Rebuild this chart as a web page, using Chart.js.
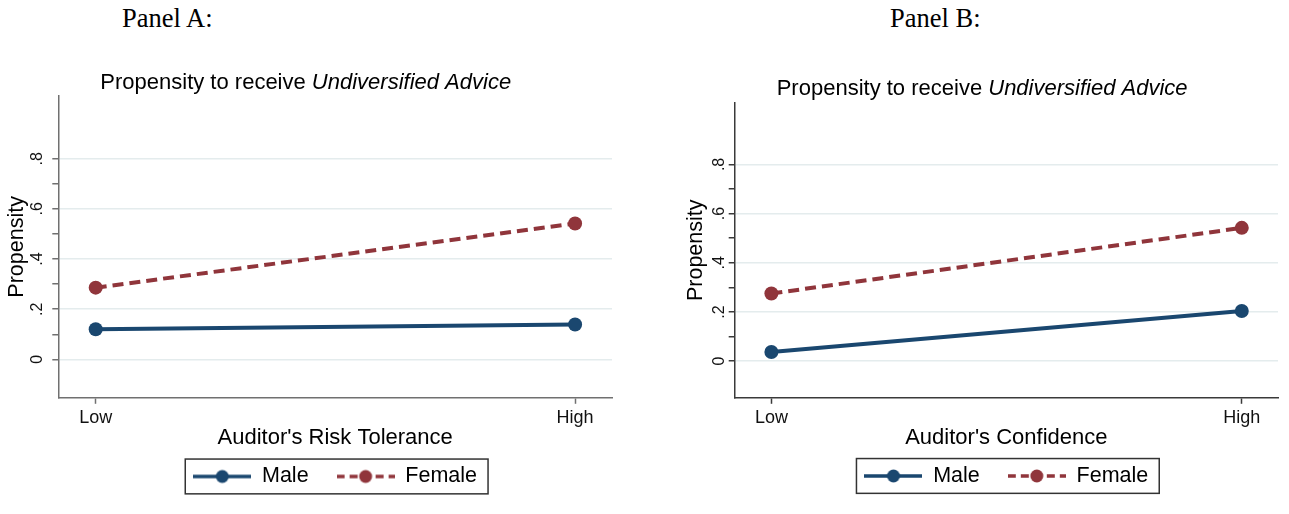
<!DOCTYPE html>
<html>
<head>
<meta charset="utf-8">
<script src="https://cdn.jsdelivr.net/npm/chart.js@4.4.1/dist/chart.umd.min.js"></script>
<style>
body { margin: 0; background: #fff; width: 1289px; height: 514px; position: relative; overflow: hidden; }
.panel-label { position: absolute; top: 5px; font-family: "Liberation Serif", "Times New Roman", serif; font-size: 26.5px; line-height: 1; color: #000; }
canvas { position: absolute; top: 0; }
</style>
</head>
<body>
<div class="panel-label" style="left:122px">Panel A:</div>
<div class="panel-label" style="left:890px">Panel B:</div>
<canvas id="chartA" width="660" height="514" style="left:0"></canvas>
<canvas id="chartB" width="629" height="514" style="left:660px"></canvas>
<script>
// datos
const categories = ['Low', 'High'];
const seriesNames = ['Male', 'Female'];
const maleA = [0.12, 0.139];
const femaleA = [0.286, 0.542];
const maleB = [0.037, 0.204];
const femaleB = [0.275, 0.542];
const yTicks = [0, 0.1, 0.2, 0.3, 0.4, 0.5, 0.6, 0.7, 0.8];
const yLabels = ['0', '', '.2', '', '.4', '', '.6', '', '.8'];
const titleMain = 'Propensity to receive ';
const titleItalic = 'Undiversified Advice';
const yTitle = 'Propensity';

const FONT = '"Liberation Sans", Arial, sans-serif';
const NAVY = '#1a476f';
const MAROON = '#90353b';
const GRID = '#e4eced';

Chart.defaults.font.family = FONT;
Chart.defaults.animation = false;

// simbolo de leyenda: linea + punto
function legendSymbol(color, dashed) {
    const c = document.createElement('canvas');
    c.width = 58;
    c.height = 16;
    const g = c.getContext('2d');
    g.strokeStyle = color;
    g.lineWidth = 3.5;
    if (dashed) g.setLineDash([8, 5]);
    g.beginPath();
    g.moveTo(0, 8);
    g.lineTo(58, 8);
    g.stroke();
    g.fillStyle = color;
    g.beginPath();
    g.arc(29, 8, 6.5, 0, Math.PI * 2);
    g.fill();
    return c;
}
const symbols = [legendSymbol(NAVY, false), legendSymbol(MAROON, true)];

function makePanel(id, cfg) {
    const ctx = document.getElementById(id).getContext('2d');
    new Chart(ctx, {
        type: 'line',
        data: {
            datasets: [
                {
                    label: seriesNames[0],
                    data: cfg.male.map((v, i) => ({ x: i, y: v })),
                    borderColor: NAVY,
                    backgroundColor: NAVY,
                    borderWidth: 4,
                    pointRadius: 7,
                    pointBorderWidth: 0,
                    pointHoverRadius: 7,
                    tension: 0,
                    fill: false
                },
                {
                    label: seriesNames[1],
                    data: cfg.female.map((v, i) => ({ x: i, y: v })),
                    borderColor: MAROON,
                    backgroundColor: MAROON,
                    borderWidth: 4,
                    borderDash: [11, 6],
                    pointRadius: 7,
                    pointBorderWidth: 0,
                    pointHoverRadius: 7,
                    tension: 0,
                    fill: false
                }
            ]
        },
        options: {
            responsive: false,
            layout: { padding: { left: 0, right: cfg.padRight, top: cfg.padTop, bottom: cfg.padBottom } },
            plugins: {
                tooltip: { enabled: false },
                title: { display: false },
                legend: {
                    position: 'bottom',
                    fullSize: false,
                    labels: {
                        usePointStyle: true,
                        pointStyleWidth: 58,
                        padding: 28,
                        color: '#000',
                        font: { size: 21.5 },
                        generateLabels: chart => chart.data.datasets.map((ds, i) => ({
                            text: ds.label,
                            pointStyle: symbols[i],
                            fillStyle: ds.borderColor,
                            strokeStyle: ds.borderColor,
                            lineWidth: 0,
                            hidden: false,
                            datasetIndex: i
                        }))
                    }
                }
            },
            scales: {
                x: {
                    type: 'linear',
                    min: -0.078,
                    max: 1.077,
                    afterBuildTicks: s => { s.ticks = categories.map((c, i) => ({ value: i })); },
                    afterFit: s => { s.height = cfg.xHeight; },
                    ticks: {
                        callback: v => categories[v],
                        font: { size: 18 },
                        color: '#111',
                        padding: 3.2,
                        maxRotation: 0,
                        autoSkip: false
                    },
                    grid: { drawOnChartArea: false, drawTicks: true, tickLength: 6, tickColor: cfg.axis, tickWidth: 1.5 },
                    border: { color: cfg.axis, width: 1.5 },
                    title: {
                        display: true,
                        text: cfg.xTitle,
                        color: '#000',
                        font: { size: 22 },
                        padding: { top: 0, bottom: cfg.xTitlePad }
                    }
                },
                y: {
                    min: cfg.yMin,
                    max: cfg.yMax,
                    afterBuildTicks: s => { s.ticks = yTicks.map(v => ({ value: v })); },
                    afterFit: s => { s.width = cfg.yWidth; },
                    ticks: { display: false },
                    grid: {
                        color: c => (yLabels[c.index] ? GRID : 'rgba(0,0,0,0)'),
                        lineWidth: 1.5,
                        tickLength: 6,
                        tickColor: cfg.axis,
                        tickWidth: 1.5
                    },
                    border: { color: cfg.axis, width: 1.5 },
                    title: {
                        display: true,
                        text: yTitle,
                        color: '#000',
                        font: { size: 21.5 },
                        padding: { top: cfg.yTitlePad, bottom: 0 }
                    }
                }
            }
        },
        plugins: [{
            id: 'stataDecor',
            afterDraw(chart) {
                const c = chart.ctx;
                const a = chart.chartArea;
                const ys = chart.scales.y;
                c.save();
                // titulo con parte en cursiva
                c.fillStyle = '#000';
                c.textAlign = 'left';
                c.textBaseline = 'alphabetic';
                c.font = '22px ' + FONT;
                const tx = a.left + 42;
                const ty = a.top - 7.5;
                c.fillText(titleMain, tx, ty);
                const w = c.measureText(titleMain).width;
                c.font = 'italic 22px ' + FONT;
                c.fillText(titleItalic, tx + w, ty);
                // etiquetas del eje y giradas
                c.font = '16px ' + FONT;
                c.fillStyle = '#111';
                c.textAlign = 'center';
                c.textBaseline = 'middle';
                yTicks.forEach((v, i) => {
                    if (!yLabels[i]) return;
                    c.save();
                    c.translate(ys.right - cfg.yLabelGap, ys.getPixelForValue(v));
                    c.rotate(-Math.PI / 2);
                    c.fillText(yLabels[i], 0, 0);
                    c.restore();
                });
                // marco de la leyenda
                const hb = chart.legend.legendHitBoxes;
                if (hb && hb.length) {
                    const first = hb[0];
                    const last = hb[hb.length - 1];
                    const cy = first.top + first.height / 2;
                    c.strokeStyle = '#333';
                    c.lineWidth = 1.5;
                    c.strokeRect(first.left - 8, cy - 17.4, last.left + last.width - first.left + 19, 34.8);
                }
                c.restore();
            }
        }]
    });
}

makePanel('chartA', {
    male: maleA,
    female: femaleA,
    xTitle: "Auditor's Risk Tolerance",
    yMin: -0.153,
    yMax: 1.05,
    axis: '#707070',
    padRight: 48,
    padTop: 96,
    padBottom: 16.8,
    xHeight: 39.9,
    xTitlePad: -13.5,
    yWidth: 58.3,
    yTitlePad: 4.6,
    yLabelGap: 21
});

makePanel('chartB', {
    male: maleB,
    female: femaleB,
    xTitle: "Auditor's Confidence",
    yMin: -0.149,
    yMax: 1.051,
    axis: '#3a3a3a',
    padRight: 11,
    padTop: 102.7,
    padBottom: 17.3,
    xHeight: 39.4,
    xTitlePad: -14,
    yWidth: 74.7,
    yTitlePad: 23.1,
    yLabelGap: 15
});
</script>
</body>
</html>
